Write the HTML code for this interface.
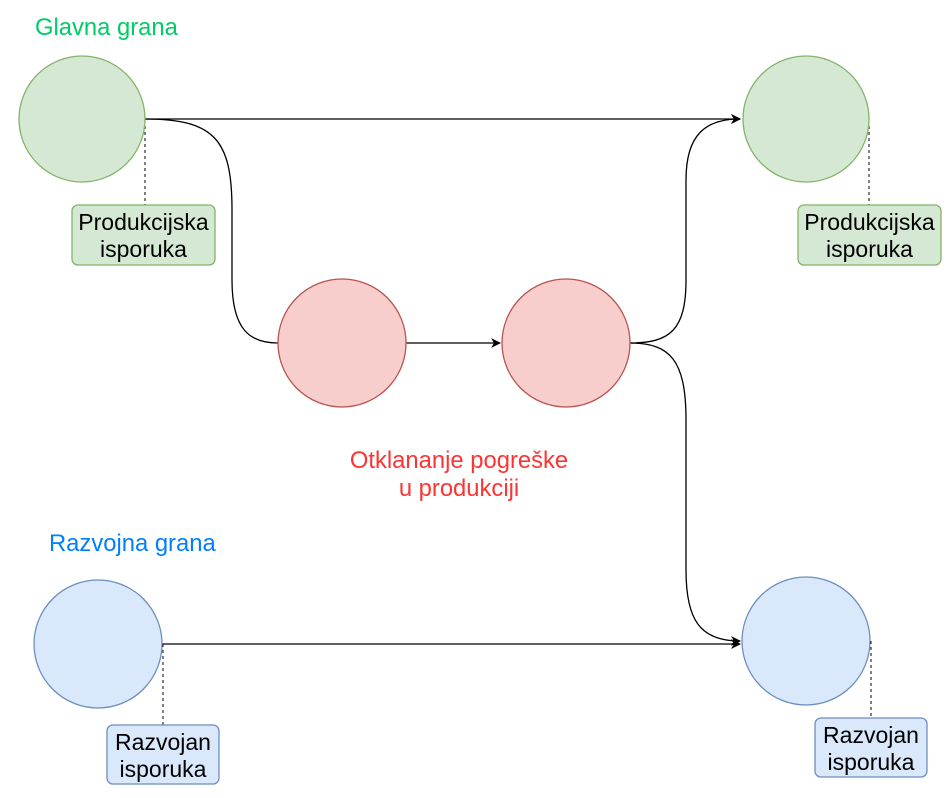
<!DOCTYPE html>
<html><head><meta charset="utf-8"><style>
html,body{margin:0;padding:0;background:#fff;}
svg{display:block;}
text{font-family:"Liberation Sans",Helvetica,Arial,sans-serif;}
</style></head><body>
<svg width="952" height="798" viewBox="0 0 952 798" xmlns="http://www.w3.org/2000/svg">
<defs>
<marker id="a" markerWidth="10" markerHeight="10" refX="9" refY="5" orient="auto" markerUnits="userSpaceOnUse">
<path d="M0,0 L10,5 L0,10 L3,5 Z" fill="#000"/>
</marker>
</defs>
<text x="35" y="35" font-size="23.8" fill="#00CC66">Glavna grana</text>
<text x="49" y="551" font-size="23.8" fill="#007FFF">Razvojna grana</text>
<text x="459" y="468" font-size="23.8" fill="#FF3333" text-anchor="middle">Otklananje pogreške</text>
<text x="459" y="496" font-size="23.8" fill="#FF3333" text-anchor="middle">u produkciji</text>

<g fill="none" stroke="#000" stroke-width="1.3">
<path d="M145,119 L740,119" marker-end="url(#a)"/>
<path d="M145,119 C215,119 232,140 232,210 L232,280 C232,330 250,343 278,343"/>
<path d="M406,343 L500,343" marker-end="url(#a)"/>
<path d="M630,343 C670,343 686,330 686,280 L686,180 C686,135 705,119 740,119" marker-end="url(#a)"/>
<path d="M630,343 C670,343 686,360 686,420 L686,570 C686,620 700,641 740,641" marker-end="url(#a)"/>
<path d="M162,644 L740,644" marker-end="url(#a)"/>
</g>
<g stroke="#000" stroke-width="1" stroke-dasharray="3,3">
<path d="M145,120 L145,205"/>
<path d="M869,120 L869,205"/>
<path d="M163,644 L163,725"/>
<path d="M871,641 L871,718"/>
</g>

<circle cx="82" cy="119" r="63" fill="#d5e8d4" stroke="#82b366" stroke-width="1.3"/>
<circle cx="806" cy="119" r="63" fill="#d5e8d4" stroke="#82b366" stroke-width="1.3"/>
<circle cx="342" cy="343" r="64" fill="#f8cecc" stroke="#b85450" stroke-width="1.3"/>
<circle cx="566" cy="343" r="64" fill="#f8cecc" stroke="#b85450" stroke-width="1.3"/>
<circle cx="98" cy="644" r="64" fill="#dae8fc" stroke="#6c8ebf" stroke-width="1.3"/>
<circle cx="806" cy="641" r="64" fill="#dae8fc" stroke="#6c8ebf" stroke-width="1.3"/>

<rect x="72" y="205" width="143" height="60" rx="6" fill="#d5e8d4" stroke="#82b366" stroke-width="1.3"/>
<text x="143.5" y="230" font-size="23" text-anchor="middle">Produkcijska</text>
<text x="143.5" y="257" font-size="23" text-anchor="middle">isporuka</text>
<rect x="798" y="205" width="143" height="60" rx="6" fill="#d5e8d4" stroke="#82b366" stroke-width="1.3"/>
<text x="869.5" y="230" font-size="23" text-anchor="middle">Produkcijska</text>
<text x="869.5" y="257" font-size="23" text-anchor="middle">isporuka</text>
<rect x="107" y="725" width="112" height="59" rx="6" fill="#dae8fc" stroke="#6c8ebf" stroke-width="1.3"/>
<text x="163" y="750" font-size="23" text-anchor="middle">Razvojan</text>
<text x="163" y="777" font-size="23" text-anchor="middle">isporuka</text>
<rect x="815" y="718" width="112" height="59" rx="6" fill="#dae8fc" stroke="#6c8ebf" stroke-width="1.3"/>
<text x="871" y="743" font-size="23" text-anchor="middle">Razvojan</text>
<text x="871" y="770" font-size="23" text-anchor="middle">isporuka</text>
</svg>
</body></html>
